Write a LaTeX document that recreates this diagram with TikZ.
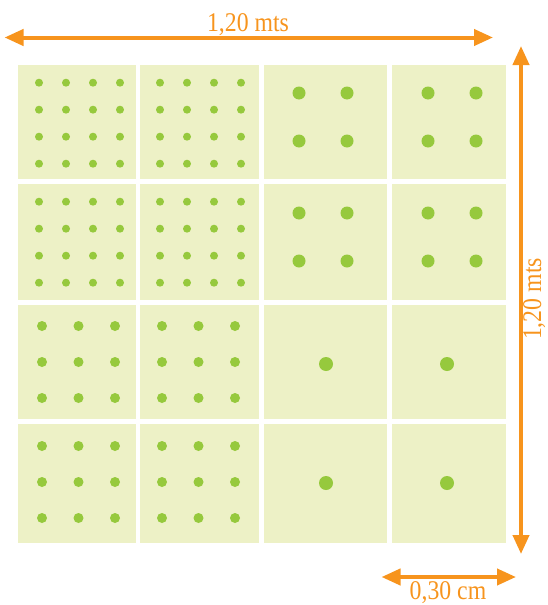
\documentclass[tikz,border=0pt]{standalone}
\usepackage{fontspec}
\newfontfamily\labelfont[FakeStretch=0.88]{Liberation Serif}
\usetikzlibrary{arrows.meta}
\definecolor{dimorange}{HTML}{F7941D}
\definecolor{cellfill}{HTML}{EDF1C6}
\definecolor{dotgreen}{HTML}{96C93D}
\begin{document}
\begin{tikzpicture}[x=1pt,y=-1pt,
  cell/.style={fill=cellfill,draw=none},
  dot/.style={fill=dotgreen,draw=none},
  dim/.style={draw=dimorange,line width=4pt,{Triangle[length=19pt,width=16pt]}-{Triangle[length=19pt,width=16pt]}},
  dimlabel/.style={text=dimorange,font=\labelfont\fontsize{27}{27}\selectfont,inner sep=0pt}]
\useasboundingbox (0,0) rectangle (547,605);
% cells
\foreach \xa/\xb in {18/136,140/259,264/387,392/506}
  \foreach \ya/\yb in {65/179,184/300,305/419,424/543}
    \path[cell] (\xa,\ya) rectangle (\xb,\yb);
% 4x4 small dots
\foreach \x in {39,66,93,120,160,187,214,241}
  \foreach \y in {82.7,109.7,136.7,163.7,201.7,228.7,255.7,282.7}
    \path[dot] (\x,\y) circle[radius=4];
% 3x3 dots
\foreach \x in {42,78.5,115,162,198.5,235}
  \foreach \y in {326,362,398,446,482,518}
    \path[dot] (\x,\y) circle[radius=5];
% 2x2 large dots
\foreach \x in {299,347,428,476}
  \foreach \y in {93,141,213,261}
    \path[dot] (\x,\y) circle[radius=6.5];
% single dots
\foreach \x in {326,447}
  \foreach \y in {364,483}
    \path[dot] (\x,\y) circle[radius=7];
% dimensions
\coordinate (topL) at (4.5,37.5);
\coordinate (topR) at (493,37.5);
\draw[dim] (topL) -- (topR);
\node[dimlabel,anchor=base] (topLabel) at (248,31) {1,20 mts};
\coordinate (rightT) at (521,46);
\coordinate (rightB) at (521,554);
\draw[dim] (rightT) -- (rightB);
\node[dimlabel,rotate=90,anchor=base] (rightLabel) at (541,299) {1,20 mts};
\coordinate (botL) at (381.5,577);
\coordinate (botR) at (516,577);
\draw[dim] (botL) -- (botR);
\node[dimlabel,anchor=base] (botLabel) at (448,599.5) {0,30 cm};
\end{tikzpicture}
\end{document}
